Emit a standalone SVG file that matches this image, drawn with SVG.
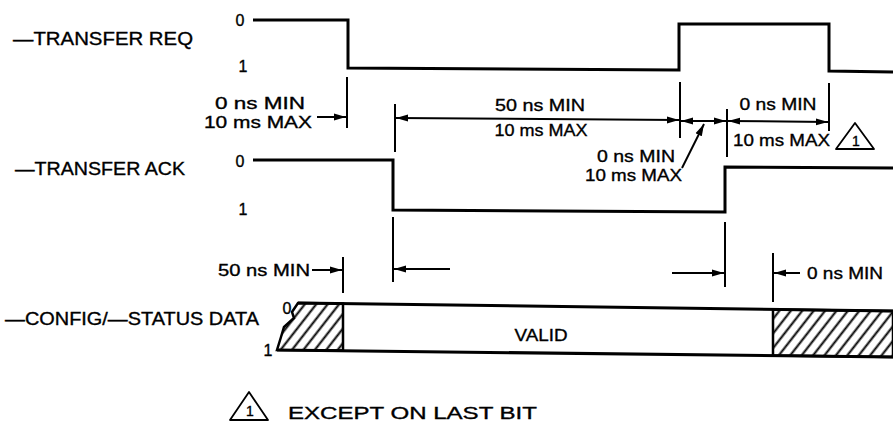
<svg xmlns="http://www.w3.org/2000/svg" width="893" height="426" viewBox="0 0 893 426">
<style>
text{font-family:"Liberation Sans",Arial,Helvetica,sans-serif;fill:#000;stroke:#000;stroke-width:0.35;font-size:17px}
.lbl{font-size:18px}
.lvl{font-size:16px}
.wave{fill:none;stroke:#000;stroke-width:3;stroke-linejoin:miter}
.tick{stroke:#000;stroke-width:2;fill:none}
.dim{stroke:#000;stroke-width:2;fill:none}
.tri{fill:none;stroke:#000;stroke-width:1.8;stroke-linejoin:round}
.small{font-size:14px}
</style>
<defs>
<marker id="ah" viewBox="0 0 12 8" refX="12" refY="4" markerWidth="12" markerHeight="8" markerUnits="userSpaceOnUse" orient="auto-start-reverse">
<path d="M0,0.5 L12,4 L0,7.5 z" fill="#000"/>
</marker>
<pattern id="hatch" patternUnits="userSpaceOnUse" width="9" height="9" patternTransform="rotate(38)">
<line x1="4.5" y1="0" x2="4.5" y2="9" stroke="#000" stroke-width="2"/>
</pattern>
</defs>

<g id="labels">
<text class="lbl" x="13" y="45" textLength="180" lengthAdjust="spacingAndGlyphs">—TRANSFER REQ</text>
<text class="lbl" x="15" y="175" textLength="170" lengthAdjust="spacingAndGlyphs">—TRANSFER ACK</text>
<text class="lbl" x="5" y="325" textLength="254" lengthAdjust="spacingAndGlyphs">—CONFIG/—STATUS DATA</text>
</g>

<g id="req">
<text class="lvl" x="240" y="26" text-anchor="middle">0</text>
<text class="lvl" x="243" y="72" text-anchor="middle">1</text>
<polyline class="wave" points="253,20 348,20 348,68 679,70 679,24 829,24 829,71 893,72"/>
</g>

<g id="ack">
<text class="lvl" x="240" y="167" text-anchor="middle">0</text>
<text class="lvl" x="243" y="215" text-anchor="middle">1</text>
<polyline class="wave" points="253,160 393,160 393,210 725,212 725,167 893,168"/>
</g>

<g id="data">
<text class="lvl" x="287" y="314" text-anchor="middle">0</text>
<text class="lvl" x="268" y="356" text-anchor="middle">1</text>
<polygon points="298,303 343,303.6 343,350.5 277,350 281,337 284,327 294,318 292,312" fill="url(#hatch)" stroke="#000" stroke-width="2.5"/>
<polygon points="773,309.4 893,311 893,357 773,355.6" fill="url(#hatch)" stroke="#000" stroke-width="2.5"/>
<line class="wave" x1="298" y1="303" x2="893" y2="311"/>
<line class="wave" x1="277" y1="350" x2="893" y2="357"/>
<text x="541" y="341" text-anchor="middle" textLength="53" lengthAdjust="spacingAndGlyphs">VALID</text>
</g>

<g id="connectors">
<line class="tick" x1="347" y1="77" x2="347" y2="128"/>
<line class="tick" x1="395" y1="104" x2="395" y2="152"/>
<line class="tick" x1="680" y1="82" x2="680" y2="138"/>
<line class="tick" x1="727" y1="109" x2="727" y2="157"/>
<line class="tick" x1="829" y1="83" x2="829" y2="131"/>
<line class="tick" x1="393" y1="217" x2="393" y2="282"/>
<line class="tick" x1="343" y1="257" x2="343" y2="293"/>
<line class="tick" x1="725" y1="222" x2="725" y2="287"/>
<line class="tick" x1="773" y1="253" x2="773" y2="302"/>

<line class="dim" x1="317" y1="117" x2="346" y2="117" marker-end="url(#ah)"/>
<line class="dim" x1="396" y1="118" x2="679" y2="120" marker-start="url(#ah)" marker-end="url(#ah)"/>
<line class="dim" x1="681" y1="121" x2="726" y2="121" marker-start="url(#ah)" marker-end="url(#ah)"/>
<line class="dim" x1="728" y1="121" x2="828" y2="122" marker-start="url(#ah)" marker-end="url(#ah)"/>
<line class="dim" x1="682" y1="168" x2="704" y2="124" marker-end="url(#ah)"/>
<line class="dim" x1="312" y1="270" x2="342" y2="270" marker-end="url(#ah)"/>
<line class="dim" x1="394" y1="269" x2="450" y2="269" marker-start="url(#ah)"/>
<line class="dim" x1="672" y1="273" x2="724" y2="273" marker-end="url(#ah)"/>
<line class="dim" x1="774" y1="273" x2="800" y2="273" marker-start="url(#ah)"/>
</g>

<g id="dimlabels">
<text x="260" y="109" text-anchor="middle" textLength="90" lengthAdjust="spacingAndGlyphs">0 ns MIN</text>
<text x="258" y="128" text-anchor="middle" textLength="108" lengthAdjust="spacingAndGlyphs">10 ms MAX</text>
<text x="540" y="111" text-anchor="middle" textLength="90" lengthAdjust="spacingAndGlyphs">50 ns MIN</text>
<text x="541" y="136" text-anchor="middle" textLength="93" lengthAdjust="spacingAndGlyphs">10 ms MAX</text>
<text x="778" y="110" text-anchor="middle" textLength="77" lengthAdjust="spacingAndGlyphs">0 ns MIN</text>
<text x="733" y="146" textLength="97" lengthAdjust="spacingAndGlyphs">10 ms MAX</text>
<text x="675" y="162" text-anchor="end" textLength="78" lengthAdjust="spacingAndGlyphs">0 ns MIN</text>
<text x="682" y="181" text-anchor="end" textLength="97" lengthAdjust="spacingAndGlyphs">10 ms MAX</text>
<text x="310" y="276" text-anchor="end" textLength="92" lengthAdjust="spacingAndGlyphs">50 ns MIN</text>
<text x="807" y="279" textLength="76" lengthAdjust="spacingAndGlyphs">0 ns MIN</text>
</g>

<g id="note1-mark">
<polygon class="tri" points="855,123 836,149 874,149"/>
<text class="small" x="856" y="146" text-anchor="middle">1</text>
</g>

<g id="footnote">
<polygon class="tri" points="249,392 230,420 268,420"/>
<text class="small" x="250" y="416" text-anchor="middle">1</text>
<text x="288" y="419" textLength="249" lengthAdjust="spacingAndGlyphs">EXCEPT ON LAST BIT</text>
</g>
</svg>
